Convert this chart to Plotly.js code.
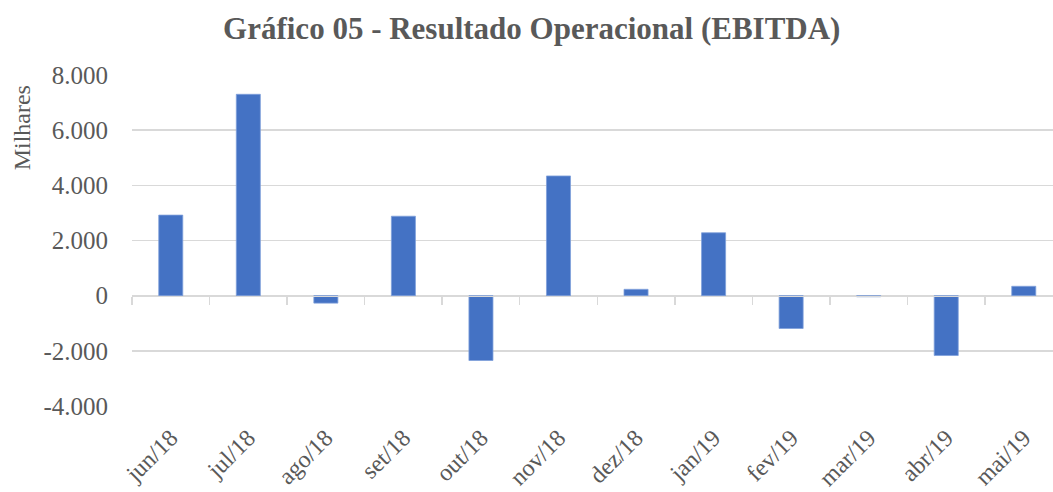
<!DOCTYPE html>
<html>
<head>
<meta charset="utf-8">
<script src="https://cdn.plot.ly/plotly-3.0.1.min.js"></script>
<style>html,body{margin:0;padding:0;background:#fff;}#chart{width:1053px;height:492px;}</style>
</head>
<body>
<div id="chart"></div>
<script>
const categories = ["jun/18","jul/18","ago/18","set/18","out/18","nov/18","dez/18","jan/19","fev/19","mar/19","abr/19","mai/19"];
const ebitda = [2920, 7300, -270, 2880, -2350, 4340, 230, 2280, -1190, -40, -2170, 340];
const yTickVals = [-4000, -2000, 0, 2000, 4000, 6000, 8000];
const yTickText = ["-4.000", "-2.000", "0", "2.000", "4.000", "6.000", "8.000"];
const titleText = "Gráfico 05 - Resultado Operacional (EBITDA)";
const yTitleText = "Milhares";

const serif = "Liberation Serif, Times New Roman, serif";
const textColor = "#595959";
const gridColor = "#d9d9d9";

const yMin = -4000, yMax = 8000;

const traces = [
  {
    type: "bar",
    x: categories,
    y: ebitda,
    marker: {color: "#4472C4", line: {color: "#7f9fdb", width: 0.8}},
    hoverinfo: "x+y"
  },
  {
    type: "bar",
    x: categories,
    y: categories.map(() => null),
    xaxis: "x2",
    showlegend: false,
    hoverinfo: "skip"
  }
];

const layout = {
  width: 1053,
  height: 492,
  margin: {l: 132, r: 0, t: 75, b: 86},
  paper_bgcolor: "#ffffff",
  plot_bgcolor: "#ffffff",
  showlegend: false,
  bargap: 0.69,
  title: {
    text: "<b>" + titleText + "</b>",
    font: {family: serif, size: 31, color: textColor},
    x: 0.505, xanchor: "center",
    y: 0.943, yanchor: "middle"
  },
  xaxis: {
    type: "category",
    range: [-0.5, 11.377],
    showgrid: false,
    zeroline: false,
    showline: false,
    ticks: "",
    tickangle: -45,
    ticklabelstandoff: 12,
    tickfont: {family: serif, size: 24, color: textColor},
    fixedrange: true
  },
  xaxis2: {
    type: "category",
    overlaying: "x",
    matches: "x",
    anchor: "free",
    position: (0 - yMin) / (yMax - yMin),
    side: "bottom",
    showgrid: false,
    zeroline: false,
    showline: true,
    linecolor: gridColor,
    linewidth: 1.5,
    ticks: "outside",
    tickson: "boundaries",
    ticklen: 8,
    tickwidth: 1.5,
    tickcolor: gridColor,
    showticklabels: false
  },
  yaxis: {
    range: [yMin, yMax],
    tickvals: yTickVals,
    ticktext: yTickText,
    showgrid: true,
    gridcolor: gridColor,
    gridwidth: 1.5,
    zeroline: false,
    showline: false,
    ticks: "",
    ticklabelstandoff: 23,
    tickfont: {family: serif, size: 25, color: textColor},
    fixedrange: true
  },
  annotations: [
    {
      text: yTitleText,
      xref: "paper", yref: "paper",
      x: -0.119, xanchor: "center",
      y: 0.84, yanchor: "middle",
      textangle: -90,
      showarrow: false,
      font: {family: serif, size: 24, color: textColor}
    }
  ]
};

Plotly.newPlot("chart", traces, layout, {displayModeBar: false, staticPlot: true});
</script>
</body>
</html>
